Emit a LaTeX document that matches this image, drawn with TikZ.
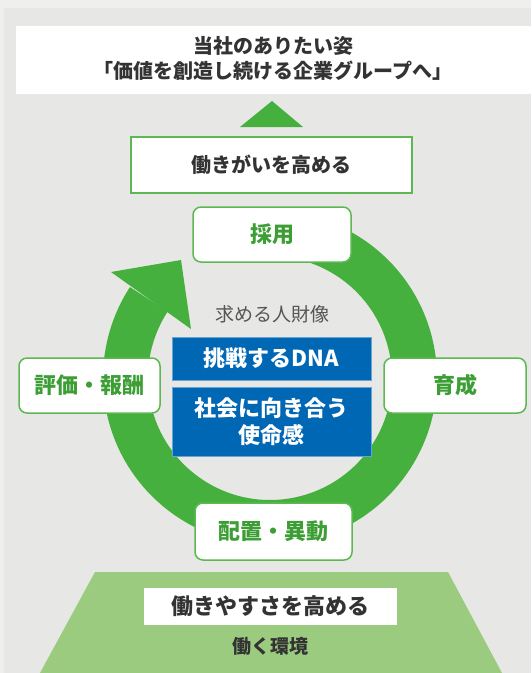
\documentclass[tikz,border=0pt]{standalone}
\usepackage{fontspec}
\setmainfont{Noto Sans CJK JP}
\definecolor{outerbg}{HTML}{EFEFEE}
\definecolor{panelbg}{HTML}{E7E7E5}
\definecolor{ringgreen}{HTML}{45B03E}
\definecolor{boxgreen}{HTML}{5DB853}
\definecolor{labelgreen}{HTML}{3C9E34}
\definecolor{bluebox}{HTML}{0067B5}
\definecolor{basegreen}{HTML}{9ACB7E}
\definecolor{darktext}{HTML}{333333}
\definecolor{graytext}{HTML}{555555}
\tikzset{
  stagebox/.style={draw=boxgreen, line width=1.5pt, fill=white, rounded corners=8pt,
    inner sep=0pt, text=labelgreen, font=\fontsize{22}{26}\selectfont\bfseries},
  goalbox/.style={draw=boxgreen, line width=1.5pt, fill=white, inner sep=0pt,
    text=darktext, font=\fontsize{20}{24}\selectfont\bfseries},
  dnabox/.style={fill=bluebox, draw=bluebox!60!white, line width=0.6pt, inner sep=0pt, text=white, align=center,
    font=\fontsize{22}{27}\selectfont\bfseries, minimum width=199pt},
}
\begin{document}
\begin{tikzpicture}[x=1pt,y=-1pt]
\useasboundingbox (0,0) rectangle (531,673);
\fill[outerbg] (0,0) rectangle (531,673);
\fill[panelbg] (4,8) rectangle (531,673);
% top white banner
\fill[white] (16,26) rectangle (531,94);
\node[text=darktext, align=center, font=\fontsize{20}{25}\selectfont\bfseries] (vision) at (273,58)
  {当社のありたい姿\\「価値を創造し続ける企業グループへ」};
% triangle
\fill[ringgreen] (272,101) -- (303,127) -- (240,127) -- cycle;
\node[goalbox, minimum width=281pt, minimum height=56pt] (yarigai) at (271.5,165) {働きがいを高める};
% ring
\coordinate (c) at (270,378);
\fill[ringgreen] ([shift={(-100:167)}]c) arc[start angle=-100, end angle=213, radius=167]
  -- ([shift={(213:122)}]c) arc[start angle=213, end angle=-100, radius=122] -- cycle;
\fill[ringgreen] (181,260) -- (111,272) -- (191,329) -- cycle;
% center
\node[text=graytext, font=\fontsize{19}{22}\selectfont] (jinzai) at (272,314) {求める人財像};
\node[dnabox, minimum height=43pt] (dna) at (271.5,358.5) {挑戦するDNA};
\node[dnabox, minimum height=69pt] (shimei) at (271.5,421.5) {社会に向き合う\\使命感};
% stage boxes
\node[stagebox, minimum width=158pt, minimum height=55pt] (saiyo) at (272,234.5) {採用};
\node[stagebox, minimum width=142pt, minimum height=55pt] (ikusei) at (455,385.5) {育成};
\node[stagebox, minimum width=141pt, minimum height=55pt] (hyoka) at (89.5,385.5) {評価・報酬};
\node[stagebox, minimum width=157pt, minimum height=57pt] (haichi) at (273.5,531.5) {配置・異動};
% base
\fill[basegreen] (95,572) -- (448,572) -- (502,673) -- (40,673) -- cycle;
\node[fill=white, inner sep=0pt, minimum width=253pt, minimum height=37pt, text=darktext,
  font=\fontsize{22}{26}\selectfont\bfseries] (yasusa) at (270.5,606.5) {働きやすさを高める};
\node[text=darktext, font=\fontsize{19}{22}\selectfont\bfseries] (kankyo) at (270,646) {働く環境};
\end{tikzpicture}
\end{document}
